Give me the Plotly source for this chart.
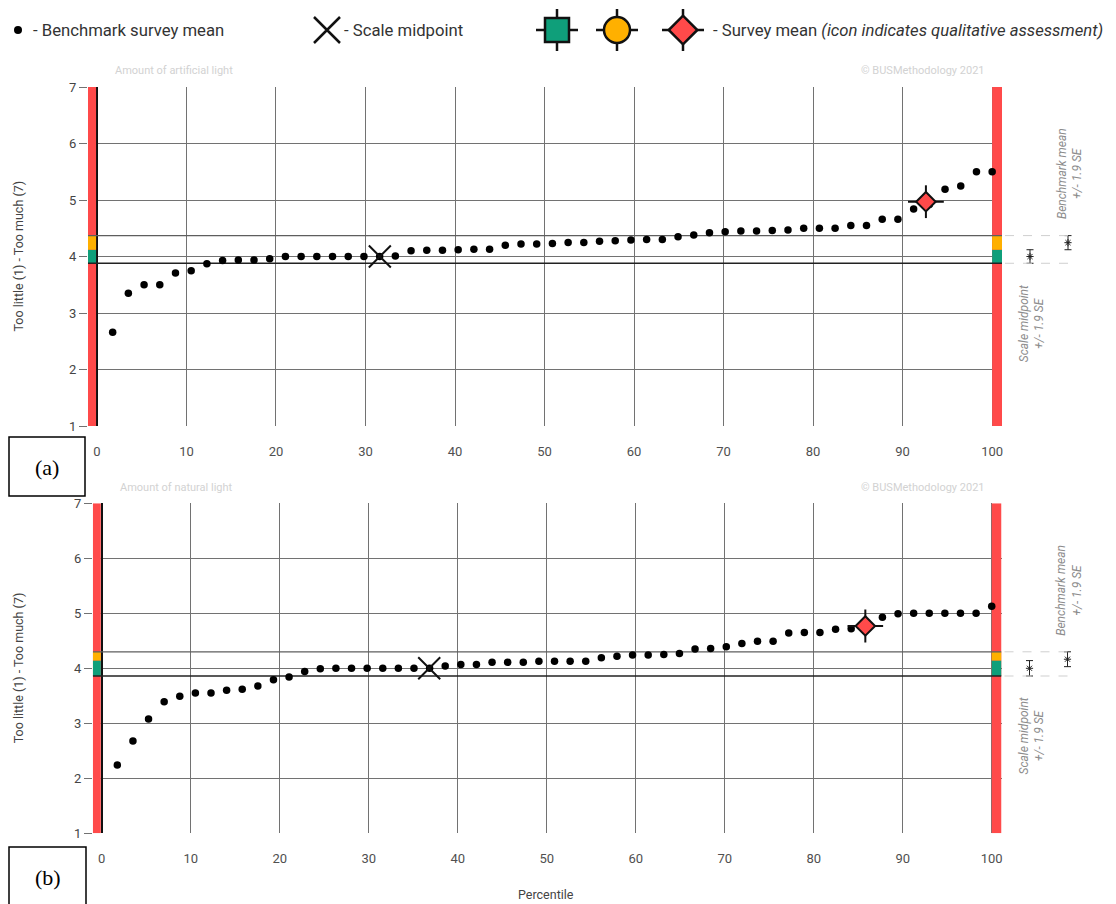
import numpy as np
import plotly.graph_objects as go

W, H = 1116, 904

# Benchmark survey means, sorted, one per survey in the benchmark set
artificial_vals = [2.66, 3.35, 3.50, 3.50, 3.71, 3.75, 3.87, 3.93, 3.94, 3.94,
                   3.96, 4.00, 4.00, 4.00, 4.00, 4.00, 4.00, 4.00, 4.01, 4.10,
                   4.11, 4.11, 4.12, 4.13, 4.13, 4.20, 4.22, 4.22, 4.23, 4.25,
                   4.25, 4.27, 4.28, 4.29, 4.30, 4.30, 4.35, 4.38, 4.42, 4.44,
                   4.45, 4.45, 4.46, 4.47, 4.50, 4.50, 4.50, 4.55, 4.55, 4.66,
                   4.66, 4.84, 4.92, 5.19, 5.25, 5.50, 5.50]
natural_vals = [2.24, 2.68, 3.08, 3.39, 3.49, 3.55, 3.55, 3.60, 3.62, 3.68,
                3.79, 3.84, 3.94, 3.99, 4.00, 4.00, 4.00, 4.00, 4.00, 4.00,
                4.00, 4.04, 4.07, 4.07, 4.11, 4.11, 4.11, 4.13, 4.13, 4.13,
                4.13, 4.19, 4.22, 4.24, 4.24, 4.25, 4.27, 4.35, 4.36, 4.39,
                4.45, 4.49, 4.49, 4.64, 4.65, 4.65, 4.71, 4.72, 4.76, 4.93,
                4.99, 5.00, 5.00, 5.00, 5.00, 5.00, 5.13]

# Survey mean (percentile position, value) with whisker half-lengths
survey_pct = [92.6, 85.8]
survey_mean = [4.97, 4.77]
survey_ey = [0.29, 0.30]
survey_ex = [2.0, 2.0]

# Scale midpoint and where it falls in the benchmark distribution
midpoint_val = [4.0, 4.0]
midpoint_pct = [31.6, 36.8]
midpoint_se = [0.12, 0.14]

# Benchmark mean +/- 1.9 SE
bench_mean = [4.245, 4.165]
bench_se = [0.125, 0.135]

titles = ["Amount of artificial light", "Amount of natural light"]
x_ticks = list(range(0, 101, 10))
y_ticks = [1, 2, 3, 4, 5, 6, 7]

RED = "#ff4a4a"
GREEN = "#0f9f7a"
ORANGE = "#ffb000"
FONT = "Roboto"
GRID = "#727272"

# pixel geometry of the two panels: (left, right, top, bottom) of plot area
panels = [(88.0, 1002.0, 87.0, 426.0), (92.8, 1001.5, 503.3, 833.3)]
XR = [-1.0, 101.1]

fig = go.Figure()
layout = dict(
    width=W, height=H, margin=dict(l=0, r=0, t=0, b=0, autoexpand=False),
    paper_bgcolor="white", plot_bgcolor="white", showlegend=False,
    font=dict(family=FONT, color="#555"),
)
shapes, annotations = [], []

for i, (vals, (pl, pr, pt, pb)) in enumerate(zip([artificial_vals, natural_vals], panels)):
    n = len(vals)
    pct = np.arange(1, n + 1) / n * 100.0
    xa = "x" if i == 0 else "x2"
    ya = "y" if i == 0 else "y2"
    xs = "x%d" % (3 + i)
    ys = "y%d" % (3 + i)
    ydom = [1 - pb / H, 1 - pt / H]

    layout["xaxis" if i == 0 else "xaxis2"] = dict(
        domain=[pl / W, pr / W], range=XR, anchor=ya, tickvals=x_ticks,
        showgrid=True, gridcolor=GRID, gridwidth=1.3,
        zeroline=True, zerolinecolor="#111", zerolinewidth=1.5,
        showline=False, ticks="", ticklabelstandoff=16, automargin=False,
        tickfont=dict(size=13, color="#505050", family=FONT),
    )
    layout["yaxis" if i == 0 else "yaxis2"] = dict(
        domain=ydom, range=[1, 7], anchor=xa, tickvals=y_ticks,
        showgrid=True, gridcolor=GRID, gridwidth=1.3, zeroline=False,
        ticks="outside", ticklen=8, tickcolor=GRID, automargin=False,
        tickfont=dict(size=13, color="#444", family=FONT),
    )
    # side strip for the SE indicators
    layout["xaxis%d" % (3 + i)] = dict(domain=[pr / W, 1], range=[pr, W], anchor=ys,
                                       visible=False, automargin=False)
    layout["yaxis%d" % (3 + i)] = dict(domain=ydom, range=[1, 7], anchor=xs,
                                       visible=False, automargin=False)

    mid_lo = midpoint_val[i] - midpoint_se[i]
    mid_hi = midpoint_val[i] + midpoint_se[i]
    b_hi = bench_mean[i] + bench_se[i]

    # colour bars at both ends of the percentile axis
    for x0, x1 in [(XR[0], -0.1), (100.0, XR[1])]:
        shapes.append(dict(type="rect", xref=xa, yref=ya, x0=x0, x1=x1, y0=1, y1=7,
                           fillcolor=RED, line=dict(width=0), layer="between"))
        shapes.append(dict(type="rect", xref=xa, yref=ya, x0=x0, x1=x1, y0=mid_lo, y1=mid_hi,
                           fillcolor=GREEN, line=dict(width=0), layer="between"))
        shapes.append(dict(type="rect", xref=xa, yref=ya, x0=x0, x1=x1, y0=mid_hi, y1=b_hi,
                           fillcolor=ORANGE, line=dict(width=0), layer="between"))
    # reference lines for the band limits
    shapes.append(dict(type="line", xref=xa, yref=ya, x0=XR[0], x1=XR[1], y0=b_hi, y1=b_hi,
                       line=dict(color="#5e5e5e", width=1.3), layer="between"))
    shapes.append(dict(type="line", xref=xa, yref=ya, x0=XR[0], x1=XR[1], y0=mid_lo, y1=mid_lo,
                       line=dict(color="#222", width=1.4), layer="between"))
    for yv in (b_hi, mid_lo):
        shapes.append(dict(type="line", xref=xs, yref=ys, x0=pr + 3, x1=pr + 75, y0=yv, y1=yv,
                           line=dict(color="#cfcfcf", width=1, dash="dash")))

    # benchmark survey means
    fig.add_trace(go.Scatter(x=pct, y=vals, xaxis=xa, yaxis=ya, mode="markers",
                             marker=dict(size=7.5, color="black"), hoverinfo="skip"))
    # scale midpoint
    fig.add_trace(go.Scatter(x=[midpoint_pct[i]], y=[midpoint_val[i]], xaxis=xa, yaxis=ya,
                             mode="markers",
                             marker=dict(symbol="x-thin", size=22, color="#111",
                                         line=dict(width=2, color="#111")),
                             hoverinfo="skip"))
    # survey mean
    fig.add_trace(go.Scatter(x=[survey_pct[i]], y=[survey_mean[i]], xaxis=xa, yaxis=ya,
                             mode="markers",
                             error_y=dict(type="data", array=[survey_ey[i]], width=0, thickness=2, color="#111"),
                             error_x=dict(type="data", array=[survey_ex[i]], width=0, thickness=2, color="#111"),
                             marker=dict(symbol="diamond", size=15, color=RED, line=dict(width=2, color="#111")),
                             hoverinfo="skip"))
    # SE indicators at the side
    fig.add_trace(go.Scatter(x=[pr + 28, pr + 66], y=[midpoint_val[i], bench_mean[i]],
                             xaxis=xs, yaxis=ys, mode="markers",
                             error_y=dict(type="data", array=[midpoint_se[i], bench_se[i]],
                                          width=3.5, thickness=1, color="#222"),
                             marker=dict(symbol="asterisk-open", size=6, color="#222",
                                         line=dict(width=1, color="#222")),
                             hoverinfo="skip"))

    side_font = dict(family=FONT, size=12, color="#8c8c8c")
    annotations.append(dict(xref=xs, yref=ys, x=pr + 68, y=b_hi, xanchor="center",
                            yanchor="bottom", yshift=14,
                            text="<i>Benchmark mean<br>+/- 1.9 SE</i>", textangle=-90,
                            showarrow=False, font=side_font))
    annotations.append(dict(xref=xs, yref=ys, x=pr + 29.5, y=mid_lo, xanchor="center",
                            yanchor="top", yshift=-20,
                            text="<i>Scale midpoint<br>+/- 1.9 SE</i>", textangle=-90,
                            showarrow=False, font=side_font))

    # panel title and credit
    ty = 1 - (pt - 16) / H
    annotations.append(dict(xref="paper", yref="paper", x=(pl + 25) / W, y=ty, xanchor="left",
                            yanchor="middle", text=titles[i], showarrow=False,
                            font=dict(family=FONT, size=11, color="#d2d2d2")))
    annotations.append(dict(xref="paper", yref="paper", x=(pr - 15) / W, y=ty, xanchor="right",
                            yanchor="middle", text="© BUSMethodology 2021", showarrow=False,
                            font=dict(family=FONT, size=11, color="#d2d2d2")))
    # y axis title
    annotations.append(dict(xref="paper", yref="paper", x=18 / W, y=1 - (pt + pb) / 2 / H,
                            xanchor="center", yanchor="middle",
                            text="Too little (1) - Too much (7)", textangle=-90, showarrow=False,
                            font=dict(family=FONT, size=12.5, color="#444")))

# x axis title
annotations.append(dict(xref="paper", yref="paper", x=546 / W, y=1 - 894 / H,
                        xanchor="center", yanchor="middle",
                        text="Percentile", showarrow=False,
                        font=dict(family=FONT, size=12.5, color="#444")))

# panel labels in boxes
for lab, (bx0, by0, bx1, by1) in [("(a)", (9, 437, 85, 496)), ("(b)", (9, 847, 86, 907))]:
    shapes.append(dict(type="rect", xref="paper", yref="paper", x0=bx0 / W, x1=bx1 / W,
                       y0=1 - by1 / H, y1=1 - by0 / H, line=dict(color="black", width=1.5),
                       fillcolor="white", layer="above"))
    annotations.append(dict(xref="paper", yref="paper", x=(bx0 + bx1) / 2 / W,
                            y=1 - (by0 + 30) / H, xanchor="center", yanchor="middle",
                            text=lab, showarrow=False,
                            font=dict(family="Liberation Serif", size=22, color="black")))

# legend strip across the top
layout["xaxis5"] = dict(domain=[0, 1], range=[0, W], anchor="y5", visible=False, automargin=False)
layout["yaxis5"] = dict(domain=[1 - 60 / H, 1], range=[60, 0], anchor="x5", visible=False, automargin=False)
fig.add_trace(go.Scatter(x=[18], y=[30], xaxis="x5", yaxis="y5", mode="markers",
                         marker=dict(size=8, color="black"), hoverinfo="skip"))
fig.add_trace(go.Scatter(x=[327], y=[30], xaxis="x5", yaxis="y5", mode="markers",
                         marker=dict(symbol="x-thin", size=26, color="#111",
                                     line=dict(width=2.5, color="#111")),
                         hoverinfo="skip"))
for xc, sym, col, sz in [(557, "square", GREEN, 24), (617, "circle", ORANGE, 26), (683, "diamond", RED, 22)]:
    fig.add_trace(go.Scatter(x=[xc], y=[30], xaxis="x5", yaxis="y5", mode="markers",
                             error_x=dict(type="data", array=[21], width=0, thickness=2.5, color="#111"),
                             error_y=dict(type="data", array=[21], width=0, thickness=2.5, color="#111"),
                             marker=dict(symbol=sym, size=sz, color=col, line=dict(width=2.5, color="#111")),
                             hoverinfo="skip"))
leg_font = dict(family=FONT, size=16.7, color="#333")
for xl, txt in [(31, "- Benchmark survey mean"), (342, "- Scale midpoint"),
                (711, "- Survey mean <i>(icon indicates qualitative assessment)</i>")]:
    annotations.append(dict(xref="x5", yref="y5", x=xl, y=30, xanchor="left", yanchor="middle",
                            text=txt, showarrow=False, font=leg_font))

layout["shapes"] = shapes
layout["annotations"] = annotations
fig.update_layout(**layout)
fig.write_html("out.html")
